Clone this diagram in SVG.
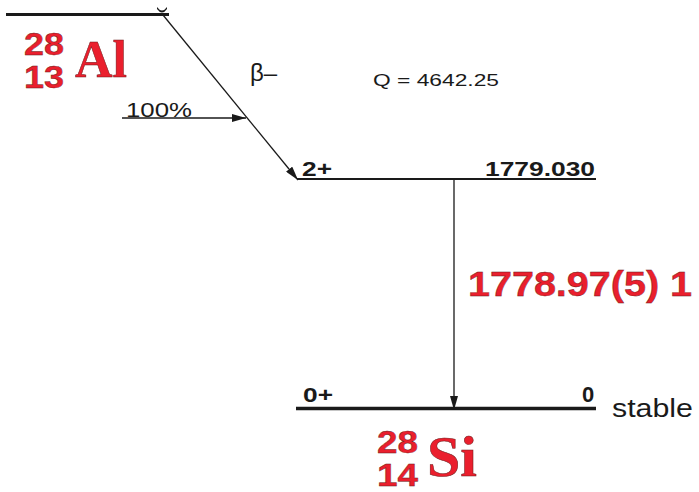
<svg xmlns="http://www.w3.org/2000/svg" width="699" height="492" viewBox="0 0 699 492">
<defs>
<marker id="ah" viewBox="0 0 14 8" refX="14" refY="4" markerWidth="14" markerHeight="8" markerUnits="userSpaceOnUse" orient="auto">
<path d="M0,0 L14,4 L0,8 z" fill="#1a1a1a"/>
</marker>
</defs>
<style>
.lvl{stroke:#1a1a1a;fill:none}
.con{stroke:#1a1a1a;stroke-width:1.3;fill:none}
.b{font-family:"Liberation Sans",Arial,sans-serif;font-weight:bold;fill:#1a1a1a}
.n{font-family:"Liberation Sans",Arial,sans-serif;fill:#1a1a1a}
.rs{font-family:"Liberation Sans",Arial,sans-serif;font-weight:bold;fill:#ea1f2d;stroke:#6a1a1a;stroke-width:0.4}
.rl{font-family:"Liberation Serif","Times New Roman",serif;font-weight:bold;fill:#ea1f2d;stroke:#6a1a1a;stroke-width:0.5}
</style>
<rect width="699" height="492" fill="#ffffff"/>
<g id="parent-Al28">
<line class="lvl" x1="6" y1="14.5" x2="169" y2="14.5" stroke-width="3"/>
<path d="M157,7 Q162,14 167,7 L167,9 Q162,16 157,9 z" fill="#1a1a1a"/>
<text class="rs" x="24" y="55" font-size="31" textLength="40" lengthAdjust="spacingAndGlyphs">28</text>
<text class="rs" x="24" y="88" font-size="32" textLength="40" lengthAdjust="spacingAndGlyphs">13</text>
<text class="rl" x="75" y="77" font-size="52">Al</text>
</g>
<g id="level-2plus">
<line class="lvl" x1="297" y1="179" x2="596" y2="179" stroke-width="2"/>
<text class="b" x="302" y="176" font-size="20" textLength="30" lengthAdjust="spacingAndGlyphs">2+</text>
<text class="b" x="485" y="176" font-size="20" textLength="110" lengthAdjust="spacingAndGlyphs">1779.030</text>
</g>
<g id="level-0plus">
<line class="lvl" x1="296" y1="408.5" x2="596" y2="408.5" stroke-width="3.5"/>
<text class="b" x="303" y="402" font-size="21" textLength="30" lengthAdjust="spacingAndGlyphs">0+</text>
<text class="b" x="582" y="402" font-size="22">0</text>
<text class="n" x="612" y="417" font-size="25" textLength="81" lengthAdjust="spacingAndGlyphs">stable</text>
<text class="rs" x="377" y="453" font-size="31" textLength="41" lengthAdjust="spacingAndGlyphs">28</text>
<text class="rs" x="377" y="486" font-size="32" textLength="41" lengthAdjust="spacingAndGlyphs">14</text>
<text class="rl" x="427" y="476" font-size="56" textLength="50" lengthAdjust="spacingAndGlyphs">Si</text>
</g>
<g id="connectors">
<line class="con" x1="163" y1="15" x2="298" y2="180" marker-end="url(#ah)"/>
<line class="con" x1="122" y1="118" x2="246" y2="118" marker-end="url(#ah)"/>
<line class="con" x1="454" y1="180" x2="454" y2="410" stroke-width="1.8" marker-end="url(#ah)"/>
</g>
<g id="labels">
<text class="n" x="250" y="81" font-size="24">β–</text>
<text class="n" x="373" y="86" font-size="17" textLength="126" lengthAdjust="spacingAndGlyphs">Q = 4642.25</text>
<text class="n" x="126" y="117" font-size="20" textLength="66" lengthAdjust="spacingAndGlyphs">100%</text>
<text class="rs" x="468" y="296" font-size="35" textLength="224" lengthAdjust="spacingAndGlyphs">1778.97(5) 1</text>
</g>
</svg>
